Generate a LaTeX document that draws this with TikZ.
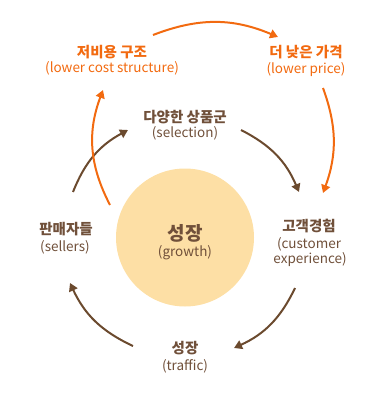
\documentclass[tikz,border=0pt]{standalone}
\usepackage{fontspec}
\setmainfont{Noto Sans CJK KR}
\usetikzlibrary{arrows.meta}
\definecolor{brownline}{HTML}{6B4A2E}
\definecolor{browntext}{HTML}{70503A}
\definecolor{orangeline}{HTML}{F26A10}
\definecolor{growthfill}{HTML}{FDDFA5}
\tikzset{
  kotext/.style={font=\bfseries\fontsize{14.5}{17}\selectfont, text=browntext, inner sep=0pt},
  entext/.style={font=\fontsize{13.5}{16}\selectfont, text=browntext, inner sep=0pt},
  cyclearrow/.style={line width=2pt, -{Triangle[length=8pt,width=9pt]}, bend left=20},
}
\begin{document}
\begin{tikzpicture}[x=1pt, y=-1pt]
  \useasboundingbox (0,0) rectangle (388,393);
  % growth circle in the middle
  \node[circle, fill=growthfill, minimum size=138pt, inner sep=0pt] (growth) at (185,237.5) {};
  \node[kotext, font=\bfseries\fontsize{19}{22}\selectfont] (growth-ko) at (185,233) {성장};
  \node[entext] (growth-en) at (185,253) {(growth)};
  % inner loop labels
  \node[kotext] (sel-ko) at (185,117) {다양한 상품군};
  \node[entext] (sel-en) at (185,133) {(selection)};
  \node[kotext] (cust-ko) at (309,226) {고객경험};
  \node[entext] (cust-en1) at (309,244) {(customer};
  \node[entext] (cust-en2) at (310,260) {experience)};
  \node[kotext] (traf-ko) at (185,348) {성장};
  \node[entext] (traf-en) at (185,366) {(traffic)};
  \node[kotext] (sell-ko) at (66,229) {판매자들};
  \node[entext] (sell-en) at (65,247) {(sellers)};
  % outer loop labels
  \node[kotext, text=orangeline] (cost-ko) at (112,52) {저비용 구조};
  \node[entext, text=orangeline] (cost-en) at (112,68) {(lower cost structure)};
  \node[kotext, text=orangeline] (price-ko) at (306,52) {더 낮은 가격};
  \node[entext, text=orangeline] (price-en) at (306,70) {(lower price)};
  % arrow ends
  \coordinate (a1) at (241,130);
  \coordinate (a2) at (299,192);
  \coordinate (b1) at (295,288);
  \coordinate (b2) at (234,348);
  \coordinate (c1) at (133,346);
  \coordinate (c2) at (70,283);
  \coordinate (d1) at (73,192);
  \coordinate (d2) at (128,130);
  \coordinate (e1) at (153,35);
  \coordinate (e2) at (278,37);
  \coordinate (f1) at (323,88);
  \coordinate (f2) at (323,193);
  \coordinate (g1) at (110,205);
  \coordinate (g2) at (103,90);
  % brown cycle
  \draw[cyclearrow, brownline] (a1) to (a2);
  \draw[cyclearrow, brownline] (b1) to (b2);
  \draw[cyclearrow, brownline] (c1) to (c2);
  \draw[cyclearrow, brownline] (d1) to (d2);
  % orange cycle
  \draw[cyclearrow, orangeline, bend left=22] (e1) to (e2);
  \draw[cyclearrow, orangeline] (f1) to (f2);
  \draw[cyclearrow, orangeline, bend left=24] (g1) to (g2);
\end{tikzpicture}
\end{document}
